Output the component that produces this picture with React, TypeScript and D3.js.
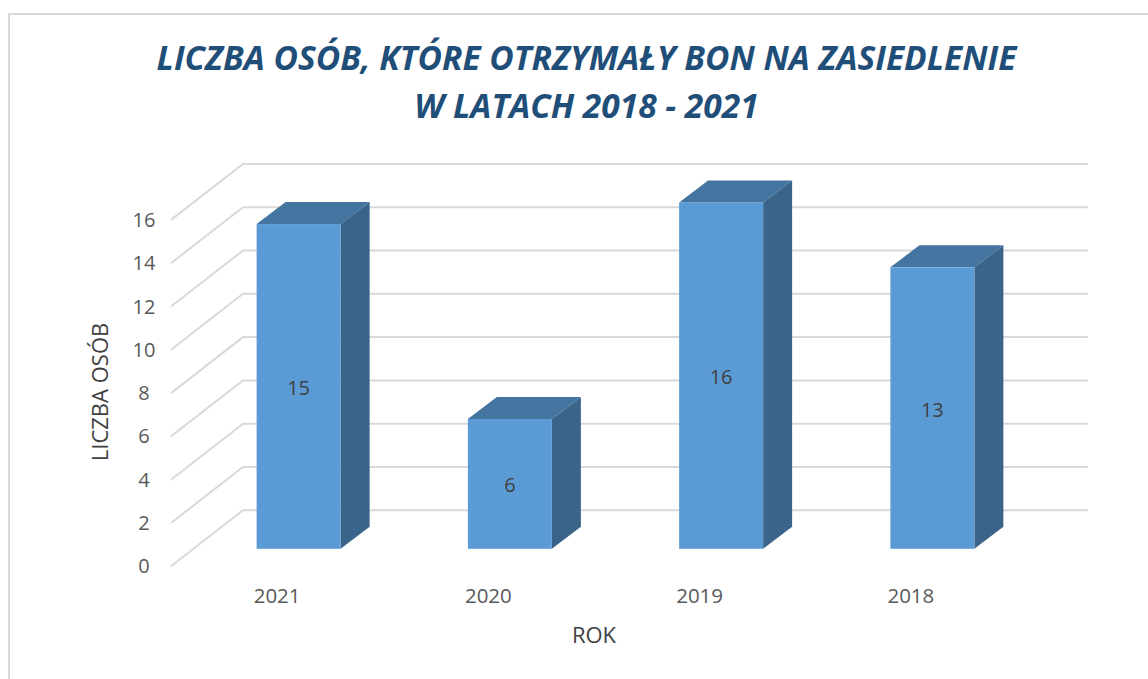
import React from "react";
import * as d3 from "d3";

const categories = ["2021", "2020", "2019", "2018"];
const values = [15, 6, 16, 13];
const yTicks = [0, 2, 4, 6, 8, 10, 12, 14, 16];
const titleLines = ["LICZBA OSÓB, KTÓRE OTRZYMAŁY BON NA ZASIEDLENIE", "W LATACH 2018 - 2021"];
const xAxisTitle = "ROK";
const yAxisTitle = "LICZBA OSÓB";

const FONT = "'Open Sans', sans-serif";
const depth = { x: 72, y: -56 };
const barDepth = { x: 29, y: -22 };
const barShift = { x: 22, y: -17.5 };

export default function App() {
  const x = d3.scaleBand<string>().domain(categories).range([171, 1016]).paddingInner(0).paddingOuter(0);
  const y = d3.scaleLinear().domain([0, 16]).range([566.3, 219.9]);
  const barWidth = 84;

  return (
    <svg width={1148} height={679} style={{ position: "absolute", left: 0, top: 0, background: "#fff" }}>
      <path d="M9,679V14H1148" fill="none" stroke="#d9d9d9" strokeWidth={2} />
      {titleLines.map((t, i) => (
        <text key={t} x={586.5} y={69.5 + i * 48} textAnchor="middle" fontFamily={FONT} fontSize={33.5}
          fontWeight={700} fontStyle="italic" fill="#1f4e79">{t}</text>
      ))}
      {yTicks.map((t) => {
        const py = y(t);
        return (
          <g key={t}>
            <path d={`M${x.range()[0]},${py}L${x.range()[0] + depth.x},${py + depth.y}H${x.range()[1] + depth.x}`}
              fill="none" stroke="#d9d9d9" strokeWidth={2} />
            <text x={144} y={py + 7} textAnchor="middle" fontFamily={FONT} fontSize={20} fill="#595959">{t}</text>
          </g>
        );
      })}
      {categories.map((c, i) => {
        const left = x(c)! + barShift.x + (x.bandwidth() - barWidth) / 2;
        const right = left + barWidth;
        const base = y(0) + barShift.y;
        const top = y(values[i]) + barShift.y;
        return (
          <g key={c}>
            <path d={`M${left},${top}L${left + barDepth.x},${top + barDepth.y}H${right + barDepth.x}L${right},${top}Z`} fill="#4475a1" />
            <path d={`M${right},${top}L${right + barDepth.x},${top + barDepth.y}V${base + barDepth.y}L${right},${base}Z`} fill="#3a6489" />
            <rect x={left} y={top} width={barWidth} height={base - top} fill="#5b9bd5" />
            <text x={left + barWidth / 2} y={(top + base) / 2 + 8.5} textAnchor="middle" fontFamily={FONT} fontSize={20} fill="#404040">{values[i]}</text>
            <text x={left + barWidth / 2 - 21.5} y={603} textAnchor="middle" fontFamily={FONT} fontSize={20.5} fill="#595959">{c}</text>
          </g>
        );
      })}
      <text x={594} y={643} textAnchor="middle" fontFamily={FONT} fontSize={22} fill="#404040">{xAxisTitle}</text>
      <text transform="translate(108,392) rotate(-90)" textAnchor="middle" fontFamily={FONT} fontSize={22} fill="#404040">{yAxisTitle}</text>
    </svg>
  );
}
